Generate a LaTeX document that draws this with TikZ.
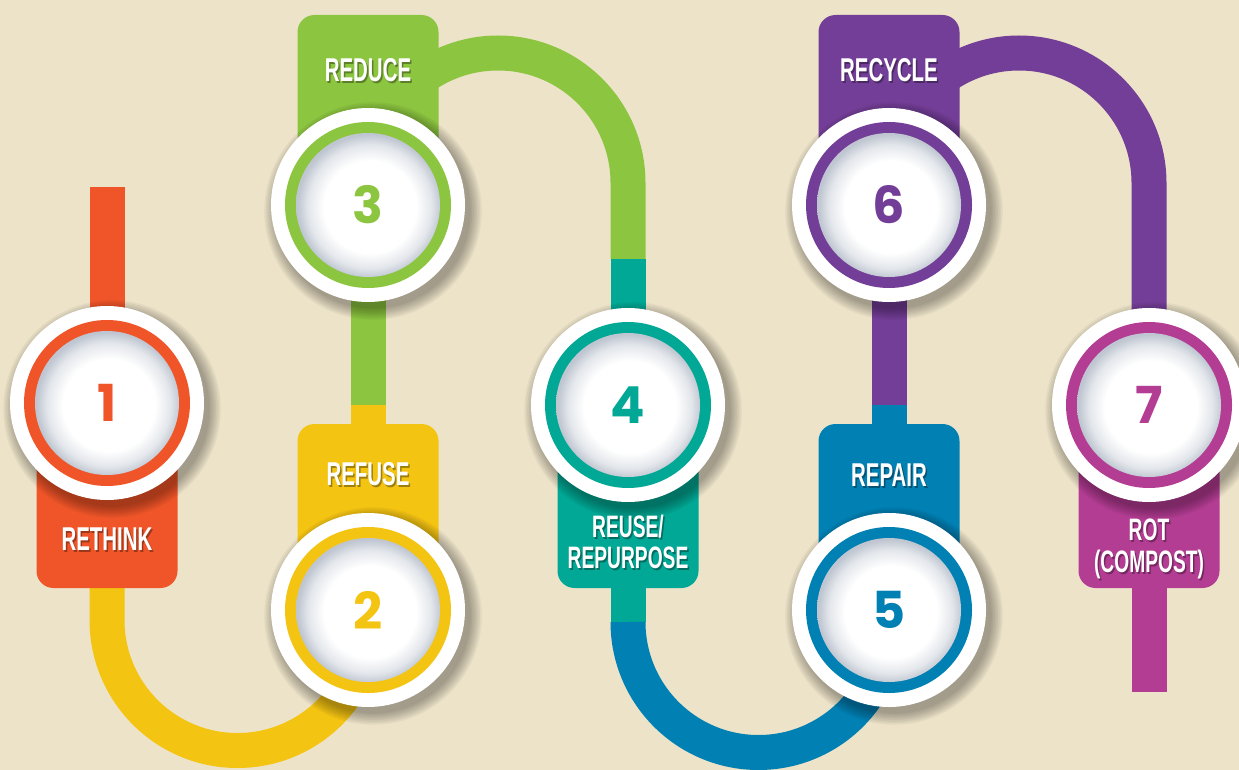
\documentclass[tikz,border=0pt]{standalone}
\usepackage{fontspec}
\usetikzlibrary{calc}
\newfontfamily\labfont{Liberation Sans}
\newfontfamily\numfont{Poppins}
\definecolor{bg}{HTML}{EDE3C9}
\definecolor{cRed}{HTML}{EF5529}
\definecolor{cYel}{HTML}{F4C413}
\definecolor{cGrn}{HTML}{8CC540}
\definecolor{cTeal}{HTML}{00A895}
\definecolor{cBlue}{HTML}{0180B3}
\definecolor{cPur}{HTML}{733E97}
\definecolor{cMag}{HTML}{B43D94}
\definecolor{rim}{HTML}{B8C0CC}
\pgfdeclareradialshading{disc}{\pgfpoint{1bp}{-1bp}}{color(0bp)=(white); color(16bp)=(white); color(21.5bp)=(rim!40!white); color(25bp)=(rim!90!white); color(50bp)=(rim!90!white)}
\pgfdeclarelayer{track}\pgfdeclarelayer{tab}
\pgfsetlayers{track,tab,main}
\newcommand\lab[1]{\scalebox{0.62}[1]{#1}}
\newcommand\station[5]{%
  \foreach \k in {1,...,8}{\fill[black,opacity=0.045] (#2+5,#3+6) circle ({96+1.6*\k});}
  \node[circle, fill=white, minimum size=194pt, inner sep=0pt] (#1) at (#2,#3) {};
  \fill[#4] (#1.center) circle (83);
  \shade[shading=disc] (#1.center) circle (72);
  \node[text=#4, inner sep=0pt, font=\numfont\bfseries\fontsize{51}{51}\selectfont] (#1num) at (#1.center) {#5};
}
\newcommand\tlab[5]{%
  \node[lab, text=black, opacity=0.35, font=\labfont\bfseries\fontsize{#5}{#5}\selectfont] (#1s) at (#2+1.5,#3+2) {\lab{#4}};
  \node[lab, font=\labfont\bfseries\fontsize{#5}{#5}\selectfont] (#1) at (#2,#3) {\lab{#4}};
}
\tikzset{
  track/.style={line width=35pt},
  tabbox/.style={rectangle, rounded corners=17pt, minimum width=141pt, inner sep=0pt},
  lab/.style={text=white, anchor=base, inner sep=0pt}
}
\begin{document}
\begin{tikzpicture}[x=1pt,y=-1pt]
\begin{pgfonlayer}{track}
\fill[bg] (0,0) rectangle (1239,770);
\end{pgfonlayer}
\useasboundingbox (0,0) rectangle (1239,770);

% tabs
\begin{pgfonlayer}{tab}
\node[tabbox, fill=cRed,  minimum height=188pt] (t1) at (107,494) {};
\node[tabbox, fill=cYel,  minimum height=176pt] (t2) at (368,512) {};
\node[tabbox, fill=cGrn,  minimum height=176pt] (t3) at (368,103) {};
\node[tabbox, fill=cTeal, minimum height=188pt] (t4) at (628,494) {};
\node[tabbox, fill=cBlue, minimum height=176pt] (t5) at (889,512) {};
\node[tabbox, fill=cPur,  minimum height=176pt] (t6) at (889,103) {};
\node[tabbox, fill=cMag,  minimum height=188pt] (t7) at (1149,494) {};
\end{pgfonlayer}

% stations
\station{c1}{107}{403}{cRed}{1}
\station{c2}{368}{610}{cYel}{2}
\station{c3}{368}{205}{cGrn}{3}
\station{c4}{628}{405}{cTeal}{4}
\station{c5}{889}{610}{cBlue}{5}
\station{c6}{889}{205}{cPur}{6}
\station{c7}{1149}{405}{cMag}{7}

% labels
\tlab{l1}{107}{550}{RETHINK}{33}
\tlab{l2}{368}{485}{REFUSE}{33}
\tlab{l3}{368}{82}{REDUCE}{33}
\tlab{l4a}{628}{537}{REUSE/}{31}
\tlab{l4b}{628}{568}{REPURPOSE}{31}
\tlab{l5}{889}{486}{REPAIR}{33}
\tlab{l6}{889}{82}{RECYCLE}{33}
\tlab{l7a}{1149}{540}{ROT}{31}
\tlab{l7b}{1149}{572}{(COMPOST)}{31}

% tracks
\begin{pgfonlayer}{track}
\coordinate (top1) at (107,187);
\draw[track, cRed] (c1.center) -- (top1);
\draw[track, cYel] (t1.center) -- (107,620) arc[start angle=180, end angle=0, radius=130.5] -- (c2.center);
\coordinate (g2) at (368,405);
\draw[track, cGrn] (c3.center) -- (g2);
\draw[track, cYel] (g2) -- (t2.center);
\coordinate (g4) at (628,259);
\draw[track, cGrn] (c3.center) -- (368,183) arc[start angle=180, end angle=360, radius=130] -- (g4);
\draw[track, cTeal] (g4) -- (c4.center);
\draw[track, cTeal] (t4.center) -- (628,622);
\draw[track, cBlue] (628,622) arc[start angle=180, end angle=0, radius=130.5] -- (c5.center);
\coordinate (g5) at (889,405);
\draw[track, cPur] (c6.center) -- (g5);
\draw[track, cBlue] (g5) -- (t5.center);
\draw[track, cPur] (c6.center) -- (889,183) arc[start angle=180, end angle=360, radius=130] -- (c7.center);
\coordinate (end7) at (1149,692);
\draw[track, cMag] (t7.center) -- (end7);
\end{pgfonlayer}
\end{tikzpicture}
\end{document}
